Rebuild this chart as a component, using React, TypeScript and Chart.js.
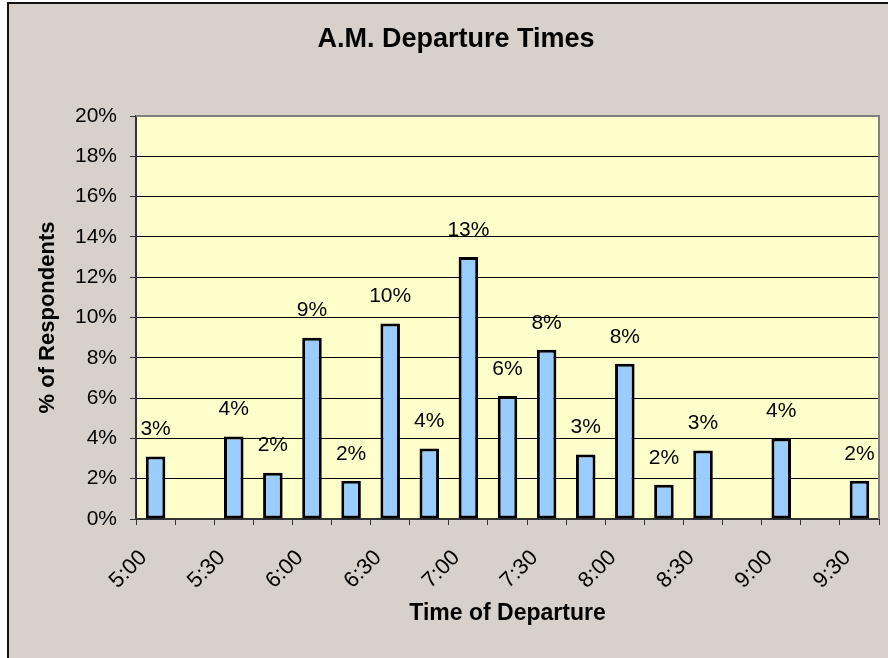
import React, { useEffect, useRef } from 'react';
import { Chart, registerables } from 'chart.js';

Chart.register(...registerables);

// Quarter-hour departure slots; only the half-hour marks carry a label.
const times = [
  '5:00', '5:15', '5:30', '5:45', '6:00', '6:15', '6:30', '6:45', '7:00', '7:15',
  '7:30', '7:45', '8:00', '8:15', '8:30', '8:45', '9:00', '9:15', '9:30',
];

// Share of respondents (%) leaving in each slot.
const shares = [
  3.1, 0, 4.1, 2.3, 9.0, 1.9, 9.7, 3.5, 13.0, 6.1,
  8.4, 3.2, 7.7, 1.7, 3.4, 0, 4.0, 0, 1.9,
];

const yMin = 0;
const yMax = 20;
const yStep = 2;

const FONT = '"Liberation Sans", Arial, Helvetica, sans-serif';
const PAGE_BG = '#D8D0CA';
const PLOT_BG = '#FFFFCC';
const BAR_FILL = '#99CCFF';

// Grey chart frame with a dark left/top edge, and the pale yellow plot area.
const framePlugin = {
  id: 'frame',
  beforeDraw(chart: any) {
    const { ctx, width, height, chartArea } = chart;
    ctx.save();
    ctx.fillStyle = '#FFFFFF';
    ctx.fillRect(0, 0, width, height);
    ctx.fillStyle = PAGE_BG;
    ctx.fillRect(8, 3, width - 8, height - 3);
    ctx.strokeStyle = '#111111';
    ctx.lineWidth = 2;
    ctx.beginPath();
    ctx.moveTo(8, height);
    ctx.lineTo(8, 3);
    ctx.lineTo(width, 3);
    ctx.stroke();
    ctx.fillStyle = PLOT_BG;
    ctx.fillRect(chartArea.left, chartArea.top, chartArea.right - chartArea.left, chartArea.bottom - chartArea.top);
    ctx.restore();
  },
  beforeDatasetsDraw(chart: any) {
    const { ctx, chartArea } = chart;
    ctx.save();
    ctx.strokeStyle = '#808080';
    ctx.lineWidth = 2;
    ctx.beginPath();
    ctx.moveTo(chartArea.left, chartArea.top);
    ctx.lineTo(chartArea.right, chartArea.top);
    ctx.lineTo(chartArea.right, chartArea.bottom);
    ctx.stroke();
    ctx.restore();
  },
};

// Rounded percentage printed above each non-empty bar.
const valueLabelPlugin = {
  id: 'valueLabels',
  afterDatasetsDraw(chart: any) {
    const { ctx } = chart;
    const meta = chart.getDatasetMeta(0);
    ctx.save();
    ctx.fillStyle = '#000000';
    ctx.font = `21px ${FONT}`;
    ctx.textAlign = 'center';
    ctx.textBaseline = 'middle';
    meta.data.forEach((bar: any, i: number) => {
      const v = shares[i];
      if (!v) return;
      ctx.fillText(`${Math.round(v)}%`, bar.x, bar.y - 27);
    });
    ctx.restore();
  },
};

export default function App() {
  const canvasRef = useRef<HTMLCanvasElement | null>(null);

  useEffect(() => {
    if (!canvasRef.current) return;
    Chart.defaults.font.family = FONT;
    const chart = new Chart(canvasRef.current, {
      type: 'bar',
      data: {
        labels: times,
        datasets: [
          {
            label: '% of Respondents',
            data: shares,
            backgroundColor: BAR_FILL,
            borderColor: '#000000',
            borderWidth: (c: any) => (c.raw ? 3 : 0),
            borderSkipped: false,
            categoryPercentage: 1,
            barPercentage: 0.5,
          },
        ],
      },
      options: {
        responsive: false,
        animation: false,
        layout: { padding: { left: 33, right: 9, top: 0, bottom: 0 } },
        plugins: {
          legend: { display: false },
          tooltip: { enabled: false },
          title: {
            display: true,
            text: 'A.M. Departure Times',
            color: '#000000',
            font: { size: 27, weight: 'bold', family: FONT },
            padding: { top: 23, bottom: 60.6 },
          },
        },
        scales: {
          x: {
            offset: true,
            grid: {
              offset: true,
              drawOnChartArea: false,
              tickLength: 6,
              color: '#333333',
              lineWidth: 1,
            },
            border: { color: '#333333', width: 2 },
            ticks: {
              autoSkip: false,
              minRotation: 45,
              maxRotation: 45,
              color: '#000000',
              font: { size: 22, family: FONT },
              padding: 20,
              labelOffset: -12,
              callback: (_v: any, i: number) => (i % 2 === 0 ? times[i] : ''),
            },
            title: {
              display: true,
              text: 'Time of Departure',
              color: '#000000',
              font: { size: 23, weight: 'bold', family: FONT },
              padding: { top: 0, bottom: 31 },
            },
            afterFit: (s: any) => {
              s.height = 139;
              s.paddingLeft = 0;
              s.paddingRight = 0;
            },
          },
          y: {
            min: yMin,
            max: yMax,
            grid: {
              color: '#000000',
              lineWidth: 1,
              tickLength: 6,
              tickColor: '#333333',
            },
            border: { color: '#333333', width: 2 },
            ticks: {
              stepSize: yStep,
              color: '#000000',
              font: { size: 21, family: FONT },
              padding: 13,
              callback: (v: any) => `${v}%`,
            },
            title: {
              display: true,
              text: '% of Respondents',
              color: '#000000',
              font: { size: 22, weight: 'bold', family: FONT },
              padding: { top: 2, bottom: 0 },
            },
            afterFit: (s: any) => {
              s.width = 103;
            },
          },
        },
      },
      plugins: [framePlugin, valueLabelPlugin],
    });
    return () => chart.destroy();
  }, []);

  return (
    <div style={{ position: 'absolute', left: 0, top: 0, width: 888, height: 658 }}>
      <canvas ref={canvasRef} width={888} height={658} style={{ display: 'block' }} />
    </div>
  );
}
